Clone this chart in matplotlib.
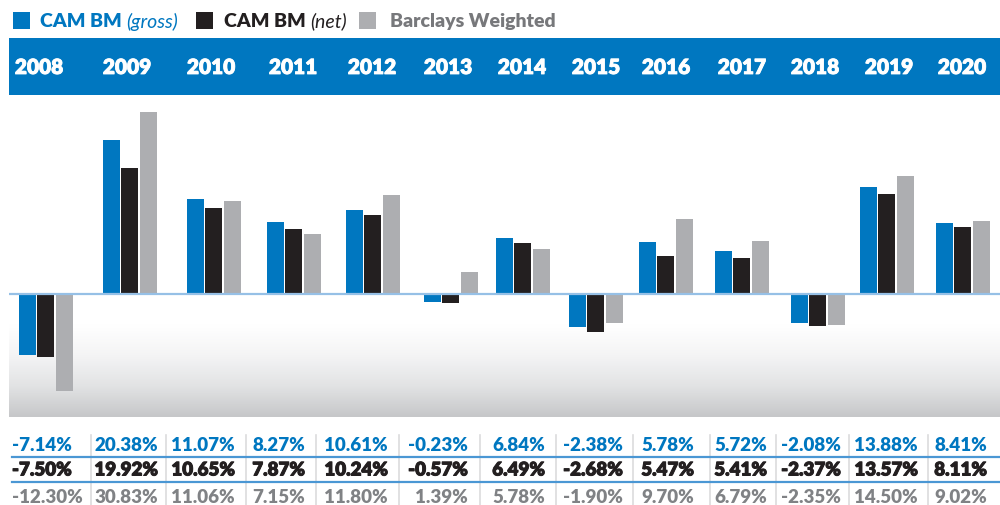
import matplotlib
matplotlib.use("Agg")
import matplotlib.pyplot as plt
import matplotlib.patheffects as pe
import numpy as np
from matplotlib.colors import LinearSegmentedColormap

plt.rcParams['font.family'] = ['Lato', 'DejaVu Sans']

years = ['2008', '2009', '2010', '2011', '2012', '2013', '2014',
         '2015', '2016', '2017', '2018', '2019', '2020']

# returns printed in the table
gross = [-7.14, 20.38, 11.07, 8.27, 10.61, -0.23, 6.84, -2.38, 5.78, 5.72, -2.08, 13.88, 8.41]
net = [-7.50, 19.92, 10.65, 7.87, 10.24, -0.57, 6.49, -2.68, 5.47, 5.41, -2.37, 13.57, 8.11]
barclays = [-12.30, 30.83, 11.06, 7.15, 11.80, 1.39, 5.78, -1.90, 9.70, 6.79, -2.35, 14.50, 9.02]

# bar heights as drawn in the original (not to scale with the table)
gross_drawn = [-61, 154, 95, 72, 84, -8, 56, -33, 52, 43, -29, 107, 71]
net_drawn = [-63, 126, 86, 65, 79, -9, 51, -38, 38, 36, -32, 100, 67]
barc_drawn = [-97, 182, 93, 60, 99, 22, 45, -29, 75, 53, -31, 118, 73]

BLUE = '#0077c0'
BLACK = '#231f20'
GREY = '#adaeb1'
GREY_TXT = '#808285'

W, H = 1000, 506
fig = plt.figure(figsize=(W / 100, H / 100), dpi=100)

# layout (pixels)
centers = [45.5, 129.5, 213.5, 293.5, 372.5, 450.5, 522.5, 595.5, 665.5, 741.5, 817.5, 886.5, 962.5]
year_x = [39, 127, 211, 293, 372, 448, 522, 596, 666, 742, 815, 889, 962]
text_right = [None, 158, 235, 305, 388, 468, 545, 623, 694, 767, 841, 918, 987]
seps = [91, 166, 246, 316, 399, 480, 556, 633, 710, 776, 849, 928]

# overlay in pixel coords
bg = fig.add_axes([0, 0, 1, 1])
bg.set_xlim(0, W)
bg.set_ylim(H, 0)
bg.axis('off')

# header band
bg.add_patch(plt.Rectangle((9, 39), W - 9, 57, color=BLUE, lw=0, zorder=1))
for x, y in zip(year_x, years):
    bg.text(x, 68.5, y, color='white', fontsize=15, fontweight='heavy',
            ha='center', va='center', zorder=2,
            path_effects=[pe.withStroke(linewidth=0.6, foreground='white')])

# legend
fig.canvas.draw()
r = fig.canvas.get_renderer()


def put(x, s, color, **kw):
    t = bg.text(x, 21.5, s, color=color, fontsize=14, ha='left', va='center', **kw)
    bb = t.get_window_extent(r)
    return x + bb.width


def square(x, color):
    bg.add_patch(plt.Rectangle((x, 13), 17, 17, color=color, lw=0))


square(13, BLUE)
x = put(40, 'CAM BM ', BLUE, fontweight='heavy')
put(x, '(gross)', BLUE, fontstyle='italic')
square(196, BLACK)
x = put(224, 'CAM BM ', BLACK, fontweight='heavy')
put(x, '(net)', BLACK, fontstyle='italic')
square(359, GREY)
put(390, 'Barclays Weighted', '#77787b', fontweight='heavy')

# chart area
ax = fig.add_axes([9 / W, (H - 418) / H, (W - 9) / W, (418 - 95) / H])
ax.set_xlim(9, W)
ax.set_ylim(-123, 200)
ax.axis('off')

cmap = LinearSegmentedColormap.from_list('g', ['#ffffff', '#ffffff', '#f4f4f5', '#e2e3e4', '#c6c7c9'])
grad = np.linspace(0, 1, 200).reshape(-1, 1)
ax.imshow(grad, cmap=cmap, aspect='auto', extent=(9, W, -123, 0), zorder=0)

cx = np.array(centers)
ax.bar(cx - 18.5, gross_drawn, width=17, color=BLUE, zorder=2)
ax.bar(cx, net_drawn, width=17, color=BLACK, zorder=2)
ax.bar(cx + 18.5, barc_drawn, width=17, color=GREY, zorder=2)
ax.axhline(0, color='#96c0e6', lw=1.6, zorder=3)

# table
for s in seps:
    bg.plot([s, s], [436, H], color='#dcdcdd', lw=1.2, zorder=1)
bg.plot([12, W], [458, 458], color='#4a97d4', lw=1.6)
bg.plot([12, W], [483, 483], color='#4a97d4', lw=1.6)

rows = [(gross, 446, BLUE, 0), (net, 471, BLACK, 0.7), (barclays, 497.5, GREY_TXT, 0)]
for vals, y, col, extra in rows:
    fx = [pe.withStroke(linewidth=extra, foreground=col)] if extra else None
    for i, v in enumerate(vals):
        s = '%.2f%%' % v
        if text_right[i] is None:
            xx, ha = 12, 'left'
        else:
            xx, ha = text_right[i], 'right'
        bg.text(xx, y, s, color=col, fontsize=13.5, fontweight='heavy',
                ha=ha, va='center', path_effects=fx)

fig.savefig('out.png', dpi=100)
